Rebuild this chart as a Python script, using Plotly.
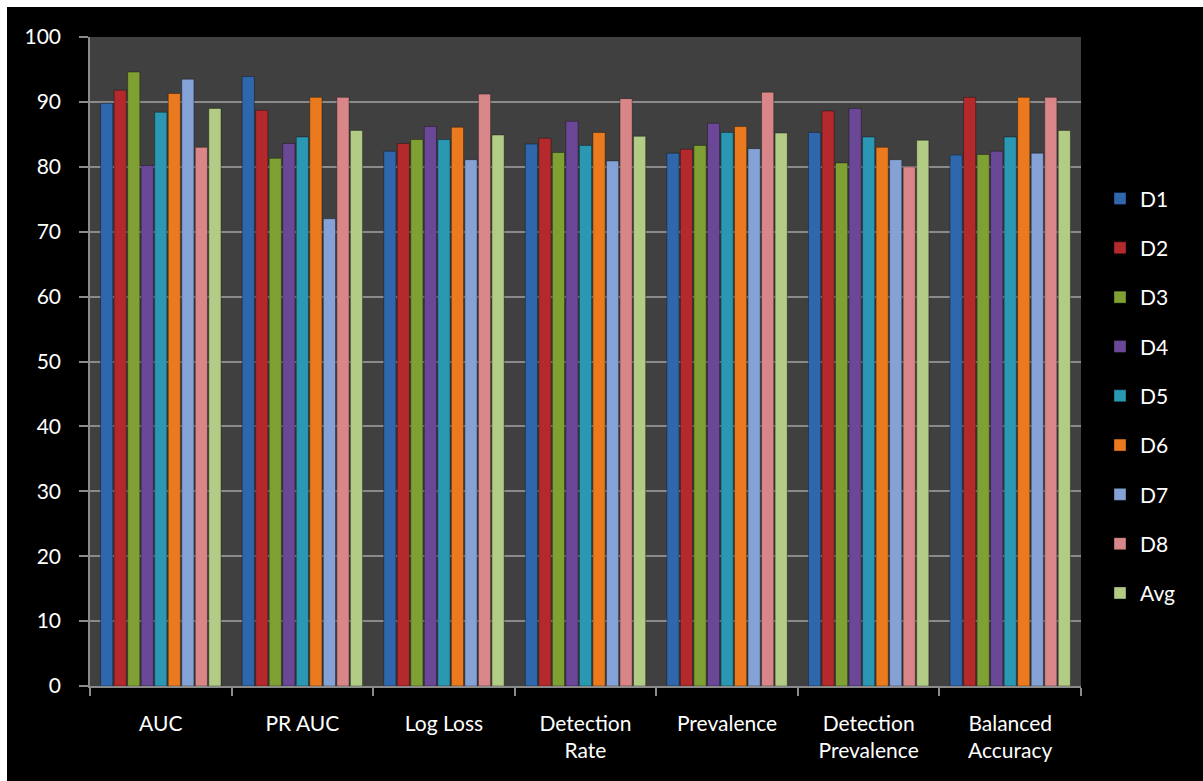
import plotly.graph_objects as go

categories = ["AUC", "PR AUC", "Log Loss", "Detection<br>Rate", "Prevalence",
              "Detection<br>Prevalence", "Balanced<br>Accuracy"]
series_names = ["D1", "D2", "D3", "D4", "D5", "D6", "D7", "D8", "Avg"]

D1 = [89.8, 93.9, 82.4, 83.5, 82.1, 85.3, 81.8]
D2 = [91.8, 88.7, 83.6, 84.4, 82.7, 88.6, 90.7]
D3 = [94.6, 81.3, 84.2, 82.2, 83.3, 80.6, 81.9]
D4 = [80.2, 83.6, 86.2, 87.0, 86.7, 89.0, 82.4]
D5 = [88.4, 84.6, 84.2, 83.3, 85.3, 84.6, 84.6]
D6 = [91.3, 90.7, 86.1, 85.3, 86.2, 83.0, 90.7]
D7 = [93.5, 72.0, 81.1, 80.9, 82.8, 81.1, 82.1]
D8 = [83.0, 90.7, 91.2, 90.5, 91.5, 80.0, 90.7]
Avg = [89.0, 85.6, 84.9, 84.7, 85.2, 84.1, 85.6]

series_values = [D1, D2, D3, D4, D5, D6, D7, D8, Avg]
colors = ["#2F67AC", "#B3292C", "#7FA032", "#6B4897", "#2A97B3",
          "#EB7A1E", "#85A2D6", "#D88688", "#B2CB85"]

FONT = "Lato, Carlito, Calibri, sans-serif"

fig = go.Figure()
for i, (name, vals, col) in enumerate(zip(series_names, series_values, colors)):
    fig.add_trace(go.Bar(
        x=categories, y=vals, name=name,
        marker=dict(color=col, line=dict(color="rgba(0,0,0,0.35)", width=1)),
        legendgroup=name,
    ))

W, H = 1203, 781
L, R, T, B = 90, 122, 37, 95
pw, ph = W - L - R, H - T - B

def px_to_paper_x(px):
    return (px - L) / pw

def px_to_paper_y(py):
    return (H - B - py) / ph

fig.update_layout(
    width=W, height=H,
    margin=dict(l=L, r=R, t=T, b=B, pad=0),
    paper_bgcolor="white",
    plot_bgcolor="rgba(0,0,0,0)",
    barmode="group",
    bargap=0.14,
    bargroupgap=0.1,
    font=dict(family=FONT, size=21, color="white"),
    showlegend=True,
    legend=dict(
        x=px_to_paper_x(1100), xanchor="left",
        y=0.447, yanchor="middle",
        font=dict(family=FONT, size=21, color="white"),
        bgcolor="rgba(0,0,0,0)",
        traceorder="grouped",
        tracegroupgap=19,
        itemwidth=30,
    ),
    shapes=[
        dict(type="rect", xref="paper", yref="paper", layer="below",
             x0=px_to_paper_x(7), x1=px_to_paper_x(W + 5),
             y0=px_to_paper_y(H + 5), y1=px_to_paper_y(7),
             fillcolor="black", line=dict(width=0)),
        dict(type="rect", xref="paper", yref="paper", layer="below",
             x0=0, x1=1, y0=0, y1=1,
             fillcolor="#404040", line=dict(width=0)),
    ],
)

fig.update_yaxes(
    range=[0, 100], dtick=10, tick0=0,
    showgrid=True, gridcolor="#8a8a8a", gridwidth=1.5,
    showline=True, linecolor="#8a8a8a", linewidth=1.5,
    ticks="outside", ticklen=9, tickcolor="#8a8a8a", tickwidth=1.5,
    ticklabelstandoff=14,
    tickfont=dict(family=FONT, size=21, color="white"),
    zeroline=False,
)
fig.update_xaxes(
    showgrid=False,
    showline=True, linecolor="#8a8a8a", linewidth=1.5,
    ticks="outside", ticklen=8, tickcolor="#8a8a8a", tickwidth=1.5,
    tickson="boundaries",
    ticklabelstandoff=18,
    tickfont=dict(family=FONT, size=21, color="white"),
    mirror=False,
)

fig.write_html("out.html")
